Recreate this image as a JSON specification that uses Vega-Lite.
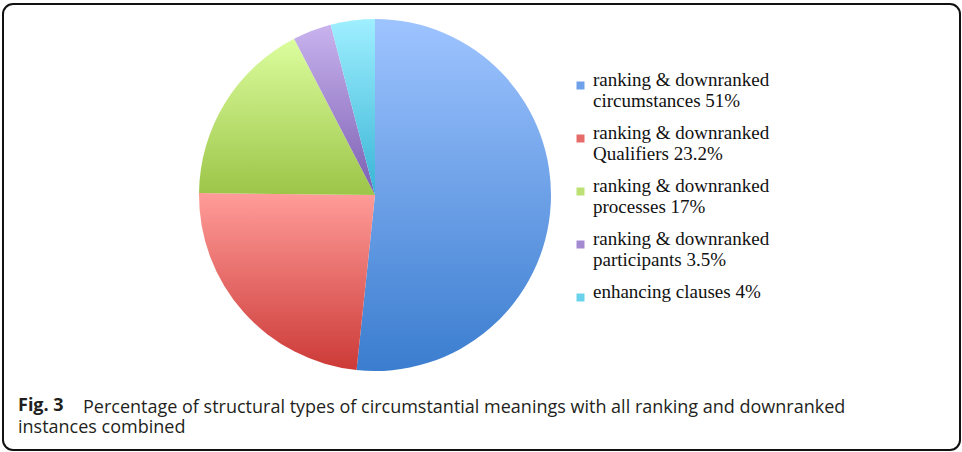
{
  "$schema": "https://vega.github.io/schema/vega-lite/v6.json",
  "width": 957,
  "height": 446,
  "autosize": "none",
  "padding": {"left": 3, "top": 4, "right": 2, "bottom": 2},
  "background": "white",
  "title": {
    "text": "Fig. 3",
    "subtitle": ["\u2800\u2800\u2800\u2800\u2800Percentage of structural types of circumstantial meanings with all ranking and downranked", "instances combined"],
    "orient": "bottom",
    "anchor": "start",
    "frame": "group",
    "offset": -54,
    "dx": 15,
    "font": "Open Sans",
    "fontSize": 18,
    "fontWeight": "bold",
    "color": "#231f20",
    "subtitleFont": "Open Sans",
    "subtitleFontSize": 18,
    "subtitleFontWeight": "normal",
    "subtitleColor": "#231f20",
    "subtitleLineHeight": 20,
    "subtitlePadding": -16
  },
  "data": {
    "values": [
      {"idx": 1, "label": "ranking & downranked|circumstances 51%", "value": 51},
      {"idx": 2, "label": "ranking & downranked|Qualifiers 23.2%", "value": 23.2},
      {"idx": 3, "label": "ranking & downranked|processes 17%", "value": 17},
      {"idx": 4, "label": "ranking & downranked|participants 3.5%", "value": 3.5},
      {"idx": 5, "label": "enhancing clauses 4%", "value": 4}
    ]
  },
  "layer": [
    {
      "transform": [{"filter": "datum.idx == 1"}],
      "mark": {"type": "rect", "filled": false, "stroke": "#111111", "strokeWidth": 2, "cornerRadius": 10},
      "encoding": {}
    },
    {
      "mark": {"type": "arc", "x": 372, "y": 191, "outerRadius": 176},
      "encoding": {
        "theta": {"field": "value", "type": "quantitative", "stack": true},
        "order": {"field": "idx", "type": "quantitative"},
        "fill": {
          "condition": [
            {"test": "datum.idx == 1", "value": {"gradient": "linear", "x1": 0, "y1": 0, "x2": 0, "y2": 1, "stops": [{"offset": 0, "color": "#9ec4ff"}, {"offset": 1, "color": "#3b7dcf"}]}},
            {"test": "datum.idx == 2", "value": {"gradient": "linear", "x1": 0, "y1": 0, "x2": 0, "y2": 1, "stops": [{"offset": 0, "color": "#ff9c99"}, {"offset": 1, "color": "#cc3a37"}]}},
            {"test": "datum.idx == 3", "value": {"gradient": "linear", "x1": 0, "y1": 0, "x2": 0, "y2": 1, "stops": [{"offset": 0, "color": "#dcfd9e"}, {"offset": 1, "color": "#9cc548"}]}},
            {"test": "datum.idx == 4", "value": {"gradient": "linear", "x1": 0, "y1": 0, "x2": 0, "y2": 1, "stops": [{"offset": 0, "color": "#c9b3ee"}, {"offset": 1, "color": "#7b5eb2"}]}}
          ],
          "value": {"gradient": "linear", "x1": 0, "y1": 0, "x2": 0, "y2": 1, "stops": [{"offset": 0, "color": "#9fefff"}, {"offset": 1, "color": "#38b4d5"}]}
        }
      }
    },
    {
      "mark": {"type": "arc", "x": 372, "y": 191, "outerRadius": 0, "innerRadius": 0},
      "encoding": {
        "theta": {"field": "value", "type": "quantitative", "stack": true},
        "order": {"field": "idx", "type": "quantitative"},
        "color": {
          "field": "label",
          "type": "nominal",
          "sort": {"field": "idx"},
          "scale": {"range": ["#6fa0ea", "#e66c69", "#bde074", "#a48ad2", "#6bd2ec"]},
          "legend": {
            "title": null,
            "orient": "none",
            "legendX": 568,
            "legendY": 72,
            "labelExpr": "split(datum.label, '|')",
            "labelFont": "Liberation Serif",
            "labelFontSize": 19,
            "labelColor": "#111111",
            "labelLimit": 400,
            "labelOffset": 3,
            "labelBaseline": "alphabetic",
            "symbolType": "square",
            "symbolSize": 64,
            "symbolStrokeWidth": 0,
            "symbolOpacity": 1,
            "rowPadding": 12
          }
        }
      }
    }
  ]
}
